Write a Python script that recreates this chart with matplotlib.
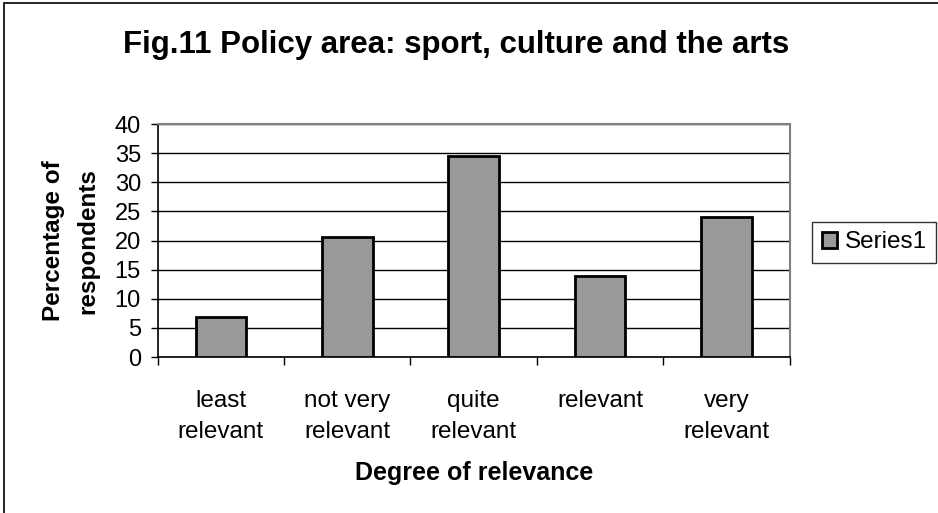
import matplotlib
matplotlib.use("Agg")
import matplotlib.pyplot as plt
from matplotlib.patches import Rectangle

categories = ["least\nrelevant", "not very\nrelevant", "quite\nrelevant", "relevant", "very\nrelevant"]
values = [6.9, 20.7, 34.5, 13.9, 24.1]
yticks = [0, 5, 10, 15, 20, 25, 30, 35, 40]
series_name = "Series1"

plt.rcParams["font.family"] = ["Liberation Sans", "DejaVu Sans"]

fig = plt.figure(figsize=(9.38, 5.13), dpi=100)
ax = fig.add_axes([0.168, 0.304, 0.674, 0.454])

x = list(range(len(categories)))
ax.bar(x, values, width=0.4, color="#999999", edgecolor="black",
       linewidth=2, label=series_name, zorder=3)

ax.set_xlim(-0.5, len(categories) - 0.5)
ax.set_ylim(0, 40)
ax.set_yticks(yticks)
ax.set_yticklabels([str(t) for t in yticks], fontsize=17)
ax.yaxis.grid(True, color="black", linewidth=1, zorder=0)
ax.set_axisbelow(True)

# category labels centred under bars, tick marks between categories
ax.set_xticks(x)
ax.set_xticklabels(categories, fontsize=17.5)
for lbl in ax.get_xticklabels():
    lbl.set_linespacing(1.5)
ax.tick_params(axis="x", length=0, pad=24)
ax.set_xticks([i - 0.5 for i in range(len(categories) + 1)], minor=True)
ax.tick_params(axis="x", which="minor", length=6, width=1, direction="out", color="black")
ax.tick_params(axis="y", length=5, width=1, direction="out", pad=7)

for side in ("top", "right"):
    ax.spines[side].set_color("#808080")
    ax.spines[side].set_linewidth(1.5)
for side in ("left", "bottom"):
    ax.spines[side].set_color("black")
    ax.spines[side].set_linewidth(1.2)

ylab = ax.set_ylabel("Percentage of\nrespondents", fontsize=17.5, fontweight="bold", labelpad=11)
ylab.set_linespacing(1.65)
ax.set_xlabel("Degree of relevance", fontsize=18, fontweight="bold", labelpad=13)

fig.text(0.486, 0.912, "Fig.11 Policy area: sport, culture and the arts",
         ha="center", va="center", fontsize=22.5, fontweight="bold")

leg = ax.legend(loc="upper left", bbox_to_anchor=(0.8655, 0.568), bbox_transform=fig.transFigure,
                fontsize=17.5, frameon=True, fancybox=False, handlelength=0.65,
                handleheight=0.65, handletextpad=0.3, borderpad=0.4, borderaxespad=0)
leg.get_frame().set_edgecolor("black")
leg.get_frame().set_linewidth(1)

# outer chart border
fig.patches.append(Rectangle((0.0045, -0.01), 1.2, 1.005, transform=fig.transFigure,
                             fill=False, edgecolor="black", linewidth=1.2))

fig.savefig("out.png", dpi=100, facecolor="white")
